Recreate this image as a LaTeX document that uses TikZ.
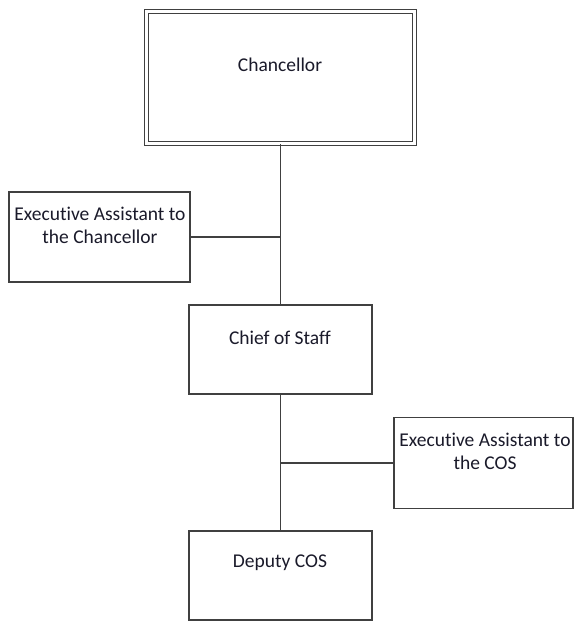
\documentclass[tikz,border=0pt]{standalone}
\usepackage{fontspec}
\setmainfont{Carlito}[Ligatures=NoCommon]
\definecolor{edge}{HTML}{404040}
\definecolor{ink}{HTML}{1A1A2A}
\begin{document}
\begin{tikzpicture}[x=1pt,y=-1pt,
  box/.style={draw=edge,line width=1.6pt,fill=white,inner sep=0pt},
  dbox/.style={draw=edge,line width=1.3pt,double=white,double distance=3.2pt,fill=white,inner sep=0pt},
  txt/.style={font=\fontsize{19.5}{23}\selectfont,text=ink,align=center,inner sep=0pt},
  link/.style={draw=edge,line width=1.6pt}]
\useasboundingbox (0,0) rectangle (577,621);
\node[dbox,minimum width=268pt,minimum height=132pt] (chan) at (280.5,77.5) {};
\node[txt] (chant) at (280,65) {Chancellor};
\node[box,minimum width=181pt,minimum height=90pt] (eac) at (99.5,237) {};
\node[txt] (eact) at (100,225) {Executive Assistant to\\the Chancellor};
\node[box,minimum width=183pt,minimum height=89pt] (cos) at (280.5,349.5) {};
\node[txt] (cost) at (280,338) {Chief of Staff};
\node[box,minimum width=179pt,minimum height=91pt] (ecos) at (483.5,463) {};
\node[txt] (ecost) at (485,451) {Executive Assistant to\\the COS};
\node[box,minimum width=183pt,minimum height=89pt] (dep) at (280.5,575.5) {};
\node[txt] (dept) at (280,563) {Deputy COS};
\coordinate (j1) at (280,237);
\coordinate (j2) at (280,463);
\draw[link] (chan.south) -- (cos.north);
\draw[link] (eac.east) -- (j1);
\draw[link] (cos.south) -- (dep.north);
\draw[link] (j2) -- (ecos.west);
\end{tikzpicture}
\end{document}
